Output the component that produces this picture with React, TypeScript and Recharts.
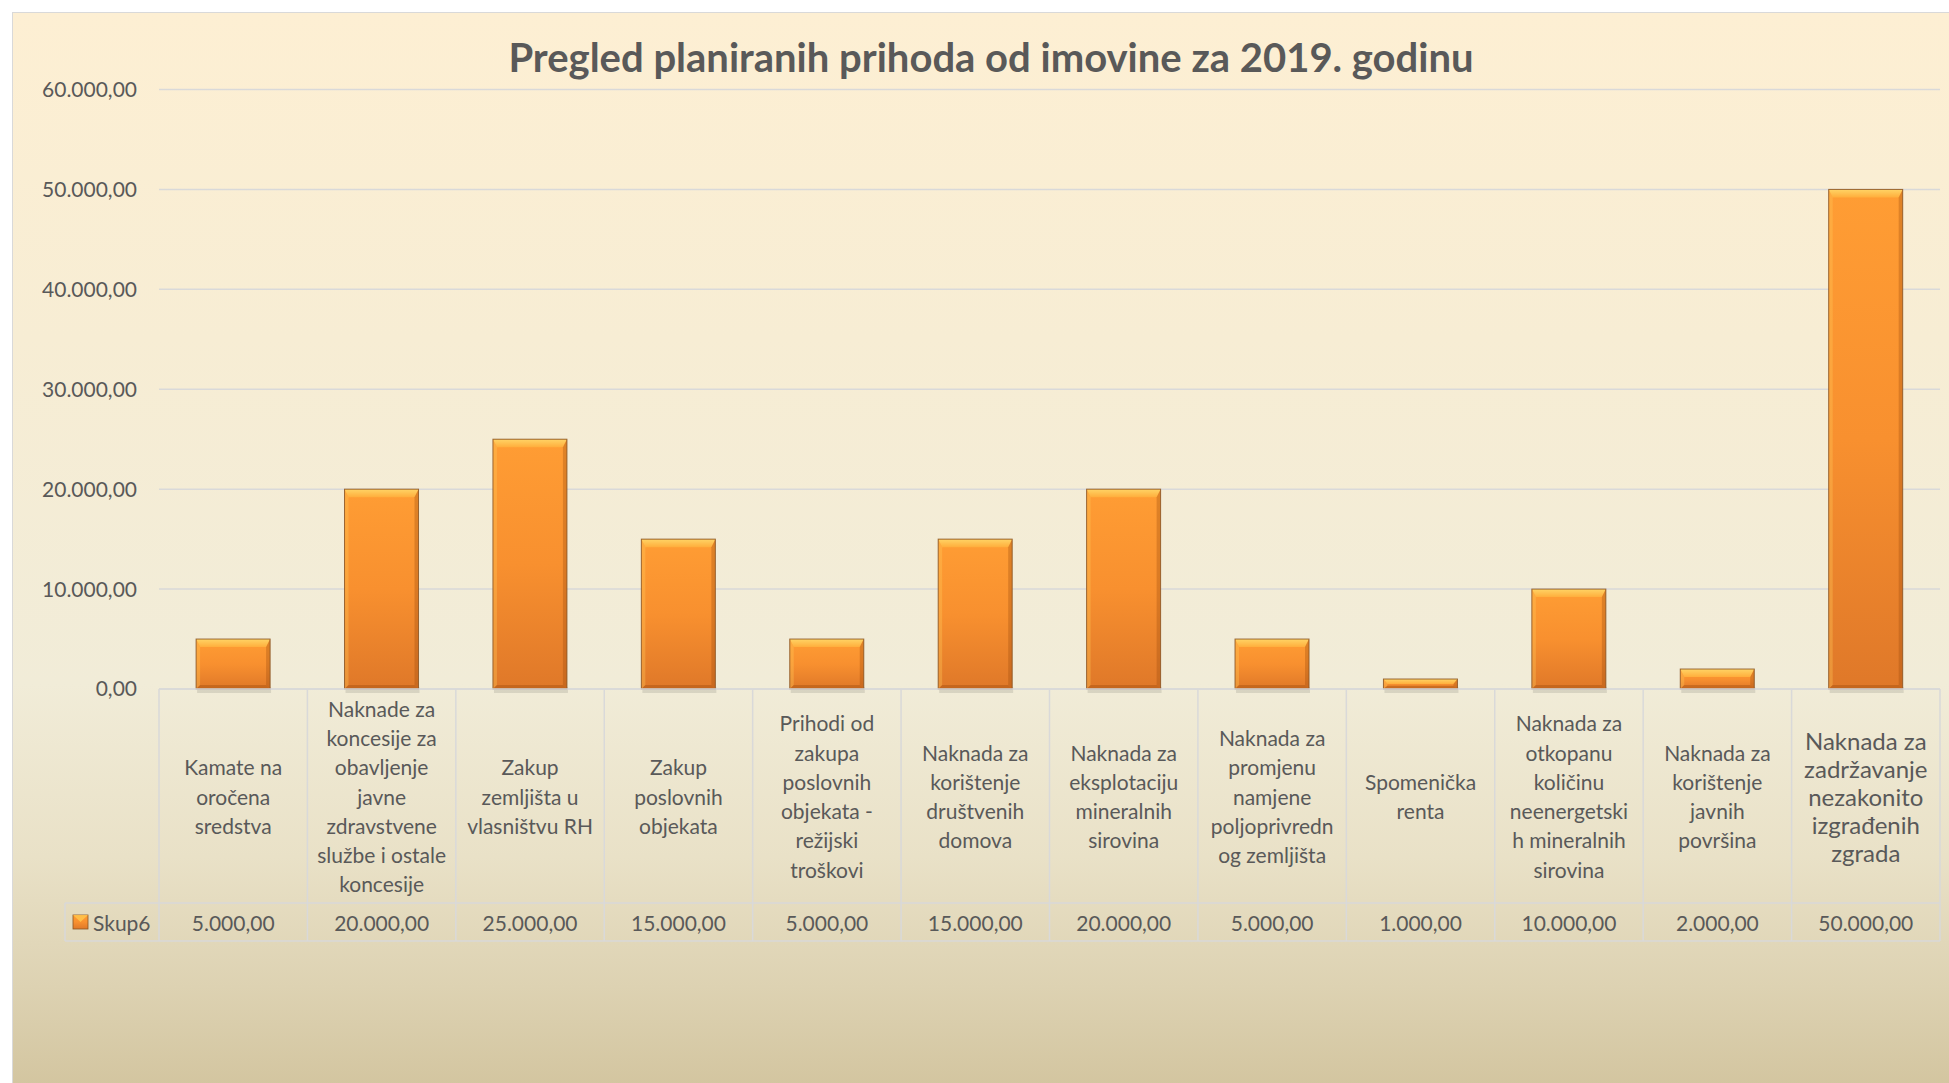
import React from "react";
import { BarChart, Bar, XAxis, YAxis, CartesianGrid } from "recharts";

const categories: string[] = [
  "Kamate na oročena sredstva",
  "Naknade za koncesije za obavljenje javne zdravstvene službe i ostale koncesije",
  "Zakup zemljišta u vlasništvu RH",
  "Zakup poslovnih objekata",
  "Prihodi od zakupa poslovnih objekata - režijski troškovi",
  "Naknada za korištenje društvenih domova",
  "Naknada za eksplotaciju mineralnih sirovina",
  "Naknada za promjenu namjene poljoprivrednog zemljišta",
  "Spomenička renta",
  "Naknada za otkopanu količinu neenergetskih mineralnih sirovina",
  "Naknada za korištenje javnih površina",
  "Naknada za zadržavanje nezakonito izgrađenih zgrada",
];

const categoryLabelLines: string[][] = [
  ["Kamate na", "oročena", "sredstva"],
  ["Naknade za", "koncesije za", "obavljenje", "javne", "zdravstvene", "službe i ostale", "koncesije"],
  ["Zakup", "zemljišta u", "vlasništvu RH"],
  ["Zakup", "poslovnih", "objekata"],
  ["Prihodi od", "zakupa", "poslovnih", "objekata -", "režijski", "troškovi"],
  ["Naknada za", "korištenje", "društvenih", "domova"],
  ["Naknada za", "eksplotaciju", "mineralnih", "sirovina"],
  ["Naknada za", "promjenu", "namjene", "poljoprivredn", "og zemljišta"],
  ["Spomenička", "renta"],
  ["Naknada za", "otkopanu", "količinu", "neenergetski", "h mineralnih", "sirovina"],
  ["Naknada za", "korištenje", "javnih", "površina"],
  ["Naknada za", "zadržavanje", "nezakonito", "izgrađenih", "zgrada"],
];

const skup6Values: number[] = [5000, 20000, 25000, 15000, 5000, 15000, 20000, 5000, 1000, 10000, 2000, 50000];

const yTicks: number[] = [0, 10000, 20000, 30000, 40000, 50000, 60000];

const seriesName = "Skup6";
const titleText = "Pregled planiranih prihoda od imovine za 2019. godinu";

const data = categories.map((c, i) => ({ name: c, value: skup6Values[i] }));

// layout constants
const W = 1949;
const H = 1083;
const PLOT_LEFT = 159;
const PLOT_RIGHT = 1940;
const PLOT_TOP = 89.5;
const PLOT_BOTTOM = 689;
const LABEL_BOTTOM = 903;
const ROW_BOTTOM = 941;
const TABLE_LEFT = 65;
const COL_W = (PLOT_RIGHT - PLOT_LEFT) / categories.length;
const FONT = "Lato, 'Open Sans', sans-serif";
const TEXT_COLOR = "#595959";
const LINE_COLOR = "#D9D9D9";

function fmt(v: number): string {
  const fixed = v.toFixed(2);
  const [intPart, dec] = fixed.split(".");
  const withDots = intPart.replace(/\B(?=(\d{3})+(?!\d))/g, ".");
  return withDots + "," + dec;
}

const BevelBar = (props: any) => {
  const { x, y, width, height } = props;
  if (!height || height <= 0) return null;
  const t = Math.min(8, height / 2);
  const s = Math.min(4, width / 4);
  const b = Math.min(4, height / 3);
  return (
    <g>
      <rect x={x + 1} y={y + height - 2} width={width} height={6} fill="rgba(0,0,0,0.10)" />
      <rect x={x} y={y} width={width} height={height} fill="url(#barGrad)" />
      <polygon
        points={`${x},${y} ${x + width},${y} ${x + width - s},${y + t} ${x + s},${y + t}`}
        fill="url(#bevelTop)"
      />
      <polygon
        points={`${x},${y} ${x + s},${y + t} ${x + s},${y + height - b} ${x},${y + height}`}
        fill="rgba(255,200,90,0.35)"
      />
      <polygon
        points={`${x + width},${y} ${x + width - s},${y + t} ${x + width - s},${y + height - b} ${x + width},${y + height}`}
        fill="rgba(150,70,10,0.30)"
      />
      <polygon
        points={`${x},${y + height} ${x + s},${y + height - b} ${x + width - s},${y + height - b} ${x + width},${y + height}`}
        fill="rgba(150,70,10,0.35)"
      />
      <rect x={x} y={y} width={width} height={height} fill="none" stroke="#8A5524" strokeWidth={1} strokeOpacity={0.85} />
    </g>
  );
};

const TableTick = (props: any) => {
  const { x, index } = props;
  const lines = categoryLabelLines[index] || [];
  const isLast = index === categories.length - 1;
  const lh = isLast ? 28 : 29.3;
  const fs = isLast ? 24 : 21;
  const cy = (PLOT_BOTTOM + LABEL_BOTTOM) / 2;
  const left = x - COL_W / 2;
  const right = x + COL_W / 2;
  const rowMid = (LABEL_BOTTOM + ROW_BOTTOM) / 2;
  return (
    <g>
      <line x1={right} y1={PLOT_BOTTOM} x2={right} y2={ROW_BOTTOM} stroke={LINE_COLOR} strokeWidth={1.5} />
      {index === 0 && (
        <g>
          <line x1={left} y1={PLOT_BOTTOM} x2={left} y2={ROW_BOTTOM} stroke={LINE_COLOR} strokeWidth={1.5} />
          <line x1={TABLE_LEFT} y1={LABEL_BOTTOM} x2={PLOT_RIGHT} y2={LABEL_BOTTOM} stroke={LINE_COLOR} strokeWidth={1.5} />
          <line x1={TABLE_LEFT} y1={ROW_BOTTOM} x2={PLOT_RIGHT} y2={ROW_BOTTOM} stroke={LINE_COLOR} strokeWidth={1.5} />
          <line x1={TABLE_LEFT} y1={LABEL_BOTTOM} x2={TABLE_LEFT} y2={ROW_BOTTOM} stroke={LINE_COLOR} strokeWidth={1.5} />
          <rect x={73} y={rowMid - 7} width={15} height={14} fill="url(#barGrad)" stroke="#8A5524" strokeWidth={0.8} />
          <polygon points={`73,${rowMid - 7} 88,${rowMid - 7} 80.5,${rowMid}`} fill="#FFC24A" opacity={0.9} />
          <text x={93} y={rowMid} dominantBaseline="central" textAnchor="start" fontFamily={FONT} fontSize={21} fill={TEXT_COLOR}>
            {seriesName}
          </text>
        </g>
      )}
      <text textAnchor="middle" fontFamily={FONT} fontSize={fs} fill={TEXT_COLOR}>
        {lines.map((ln, i) => (
          <tspan key={i} x={x} y={cy + (i - (lines.length - 1) / 2) * lh} dominantBaseline="central">
            {ln}
          </tspan>
        ))}
      </text>
      <text x={x} y={rowMid} textAnchor="middle" dominantBaseline="central" fontFamily={FONT} fontSize={21} fill={TEXT_COLOR}>
        {fmt(skup6Values[index])}
      </text>
    </g>
  );
};

export default function App() {
  return (
    <div style={{ position: "absolute", left: 0, top: 0, width: W, height: H, background: "#ffffff", overflow: "hidden" }}>
      <div
        style={{
          position: "absolute",
          left: 12,
          top: 12,
          width: W,
          height: H,
          boxSizing: "border-box",
          borderLeft: "1.5px solid #D9D9D9",
          borderTop: "1.5px solid #D9D9D9",
          background:
            "linear-gradient(to bottom, #FDEFD3 0%, #F7EDD4 30%, #F1ECD8 62%, #E9E1C7 78%, #DDD2B2 90%, #D2C49E 100%)",
        }}
      />
      <div style={{ position: "absolute", left: 0, top: 0 }}>
        <BarChart
          width={W}
          height={H}
          data={data}
          margin={{ top: PLOT_TOP, right: W - PLOT_RIGHT, bottom: 0, left: 0 }}
          barCategoryGap="25%"
        >
          <defs>
            <linearGradient id="barGrad" x1="0" y1="0" x2="0" y2="1">
              <stop offset="0%" stopColor="#FF9D34" />
              <stop offset="50%" stopColor="#F8902F" />
              <stop offset="100%" stopColor="#DF7829" />
            </linearGradient>
            <linearGradient id="bevelTop" x1="0" y1="0" x2="0" y2="1">
              <stop offset="0%" stopColor="#FFD466" />
              <stop offset="100%" stopColor="#FFAE3C" />
            </linearGradient>
          </defs>
          <CartesianGrid vertical={false} stroke={LINE_COLOR} strokeWidth={1.5} />
          <YAxis
            width={PLOT_LEFT}
            domain={[0, 60000]}
            ticks={yTicks}
            tickFormatter={fmt}
            axisLine={false}
            tickLine={false}
            tickSize={0}
            tickMargin={22}
            interval={0}
            tick={{ fontFamily: FONT, fontSize: 21, fill: TEXT_COLOR }}
          />
          <XAxis
            dataKey="name"
            interval={0}
            tickLine={false}
            axisLine={{ stroke: LINE_COLOR, strokeWidth: 1.5 }}
            tick={<TableTick />}
            height={H - PLOT_BOTTOM}
          />
          <Bar dataKey="value" name={seriesName} shape={<BevelBar />} isAnimationActive={false} />
        </BarChart>
      </div>
      <svg style={{ position: "absolute", left: 0, top: 0 }} width={W} height={120}>
        <text x={991} y={72} textAnchor="middle" fontFamily={FONT} fontWeight={700} fontSize={40} fill={TEXT_COLOR}>
          {titleText}
        </text>
      </svg>
    </div>
  );
}
